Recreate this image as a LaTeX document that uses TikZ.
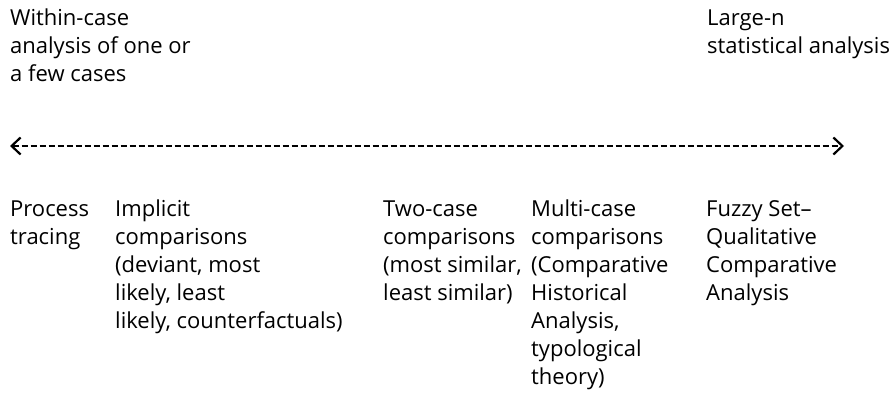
\documentclass[tikz,border=0pt]{standalone}
\usepackage{fontspec}
\setmainfont{Open Sans}
\usetikzlibrary{arrows.meta}
\begin{document}
\begin{tikzpicture}[x=1pt,y=-1pt,
  lbl/.style={anchor=base west,inner sep=0pt,align=left,
    font=\fontsize{22}{28}\selectfont},
  scale line/.style={line width=2pt,dash pattern=on 6pt off 3pt,
    {Straight Barb[length=9pt,width=17pt,line width=2.2pt]}-{Straight Barb[length=9pt,width=17pt,line width=2.2pt]}}]
\useasboundingbox (0,0) rectangle (896,414);
% anchor=base west refers to the baseline of the last line
\node[lbl] (within) at (10,82) {Within-case\\analysis of one or\\a few cases};
\node[lbl] (large) at (707,54) {Large-n\\statistical analysis};
\coordinate (l) at (10,146);
\coordinate (r) at (844,146);
\draw[scale line] (l) -- (r);
\node[lbl] (pt) at (10,244) {Process\\tracing};
\node[lbl] (ic) at (115,328) {Implicit\\comparisons\\(deviant, most\\likely, least\\likely, counterfactuals)};
\node[lbl] (tc) at (383,300) {Two-case\\comparisons\\(most similar,\\least similar)};
\node[lbl] (mc) at (531,384) {Multi-case\\comparisons\\(Comparative\\Historical\\Analysis,\\typological\\theory)};
\node[lbl] (fs) at (706,300) {Fuzzy Set–\\Qualitative\\Comparative\\Analysis};
\end{tikzpicture}
\end{document}
